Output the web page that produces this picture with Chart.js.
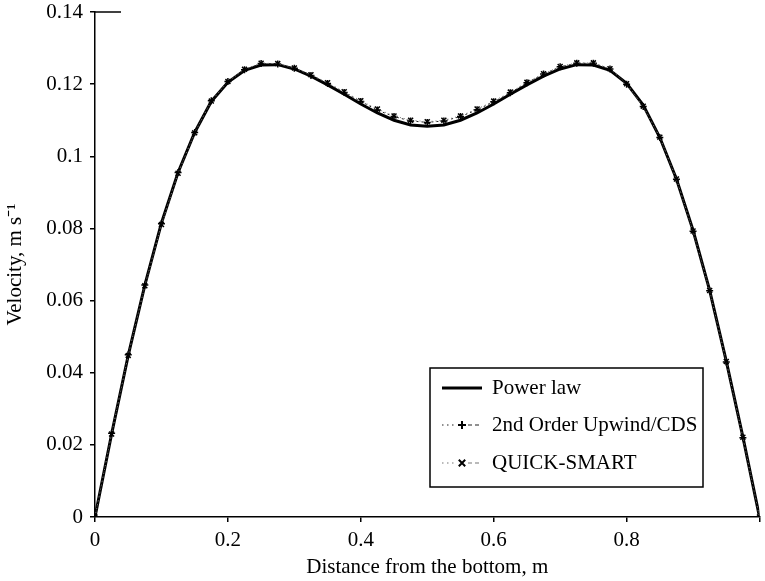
<!DOCTYPE html>
<html>
<head>
<meta charset="utf-8">
<script src="https://cdn.jsdelivr.net/npm/chart.js@4/dist/chart.umd.min.js"></script>
<style>
html,body{margin:0;padding:0;background:#fff;}
#wrap{width:765px;height:581px;position:relative;}
</style>
</head>
<body>
<div id="wrap"><canvas id="c" width="765" height="581"></canvas></div>
<script>
const distance = [0, 0.025, 0.05, 0.075, 0.1, 0.125, 0.15, 0.175, 0.2, 0.225, 0.25, 0.275, 0.3, 0.325, 0.35, 0.375, 0.4, 0.425, 0.45, 0.475, 0.5, 0.525, 0.55, 0.575, 0.6, 0.625, 0.65, 0.675, 0.7, 0.725, 0.75, 0.775, 0.8, 0.825, 0.85, 0.875, 0.9, 0.925, 0.95, 0.975, 1.0];
const powerLaw = [0, 0.023, 0.0448, 0.0643, 0.0815, 0.0955, 0.1066, 0.1152, 0.1205, 0.1238, 0.1253, 0.1254, 0.1242, 0.1222, 0.1198, 0.1172, 0.1145, 0.1120, 0.1100, 0.1087, 0.1083, 0.1087, 0.1100, 0.1120, 0.1145, 0.1172, 0.1198, 0.1222, 0.1242, 0.1254, 0.1253, 0.1238, 0.1202, 0.1142, 0.1052, 0.0937, 0.0795, 0.0628, 0.0432, 0.0222, 0];
const upwindCDS = [0, 0.0232, 0.0450, 0.0643, 0.0813, 0.0955, 0.1066, 0.1154, 0.1207, 0.1240, 0.1257, 0.1256, 0.1244, 0.1224, 0.1202, 0.1177, 0.1152, 0.1128, 0.1110, 0.1098, 0.1094, 0.1098, 0.1110, 0.1129, 0.1151, 0.1176, 0.1204, 0.1228, 0.1248, 0.1258, 0.1258, 0.1242, 0.1200, 0.1138, 0.1052, 0.0936, 0.0792, 0.0627, 0.0430, 0.0220, 0];
const quickSmart = [0, 0.0230, 0.0448, 0.0641, 0.0811, 0.0953, 0.1065, 0.1153, 0.1207, 0.1241, 0.1258, 0.1257, 0.1245, 0.1226, 0.1204, 0.1179, 0.1154, 0.1131, 0.1112, 0.1100, 0.1096, 0.1100, 0.1112, 0.1131, 0.1153, 0.1178, 0.1205, 0.1229, 0.1249, 0.1259, 0.1259, 0.1243, 0.1201, 0.1139, 0.1053, 0.0937, 0.0793, 0.0628, 0.0431, 0.0221, 0];
const seriesNames = ['Power law', '2nd Order Upwind/CDS', 'QUICK-SMART'];
const xTitle = 'Distance from the bottom, m';
const yTitle = 'Velocity, m s\u207B\u00B9';

const FONT = "'Liberation Serif', 'Times New Roman', serif";
const toPts = (ys) => ys.map((y, i) => ({x: distance[i], y: y}));

const legendPlugin = {
  id: 'boxLegend',
  afterDraw(chart) {
    const ctx = chart.ctx;
    const area = chart.chartArea;
    // short top stub at the y-axis top
    ctx.save();
    ctx.strokeStyle = '#000';
    ctx.lineWidth = 1.5;
    ctx.beginPath(); ctx.moveTo(area.left, area.top); ctx.lineTo(area.left + 26, area.top); ctx.stroke();
    ctx.restore();

    const box = {l: 430, t: 368, r: 703, b: 487};
    ctx.save();
    ctx.fillStyle = '#fff';
    ctx.fillRect(box.l, box.t, box.r - box.l, box.b - box.t);
    ctx.strokeStyle = '#000';
    ctx.lineWidth = 1.5;
    ctx.strokeRect(box.l, box.t, box.r - box.l, box.b - box.t);
    const rows = [388, 425, 463];
    chart.data.datasets.forEach((ds, i) => {
      const y = rows[i];
      const x0 = box.l + 12, x1 = box.l + 52;
      const cx = (x0 + x1) / 2;
      ctx.save();
      ctx.strokeStyle = ds.borderColor;
      if (ds.pointRadius > 0) {
        ctx.lineWidth = 1.2;
        ctx.setLineDash([1.5, 3.5]);
        ctx.beginPath(); ctx.moveTo(x0, y); ctx.lineTo(cx - 6, y); ctx.stroke();
        ctx.setLineDash([4, 3]);
        ctx.beginPath(); ctx.moveTo(cx + 6, y); ctx.lineTo(x1, y); ctx.stroke();
      } else {
        ctx.lineWidth = ds.borderWidth;
        ctx.beginPath(); ctx.moveTo(x0, y); ctx.lineTo(x1, y); ctx.stroke();
      }
      ctx.restore();
      if (ds.pointRadius > 0) {
        ctx.save();
        ctx.strokeStyle = '#000';
        ctx.lineWidth = 2;
        ctx.setLineDash([]);
        ctx.beginPath();
        const r = 4;
        if (ds.pointStyle === 'cross') {
          ctx.moveTo(cx - r, y); ctx.lineTo(cx + r, y); ctx.moveTo(cx, y - r); ctx.lineTo(cx, y + r);
        } else {
          ctx.moveTo(cx - r*0.8, y - r*0.8); ctx.lineTo(cx + r*0.8, y + r*0.8);
          ctx.moveTo(cx - r*0.8, y + r*0.8); ctx.lineTo(cx + r*0.8, y - r*0.8);
        }
        ctx.stroke();
        ctx.restore();
      }
      ctx.fillStyle = '#000';
      ctx.font = '21px ' + FONT;
      ctx.textBaseline = 'middle';
      ctx.textAlign = 'left';
      ctx.fillText(ds.label, x1 + 10, y);
    });
    ctx.restore();
  }
};

new Chart(document.getElementById('c'), {
  type: 'line',
  data: {
    datasets: [
      {label: seriesNames[0], data: toPts(powerLaw), borderColor: '#000', borderWidth: 3, pointRadius: 0, tension: 0, order: 3},
      {label: seriesNames[1], data: toPts(upwindCDS), borderColor: '#222', borderWidth: 1, borderDash: [2, 3],
       pointStyle: 'cross', pointRadius: 3.5, pointBorderWidth: 1.5, pointBorderColor: '#000', pointBackgroundColor: '#000', tension: 0, order: 2},
      {label: seriesNames[2], data: toPts(quickSmart), borderColor: '#777', borderWidth: 1, borderDash: [1, 3],
       pointStyle: 'crossRot', pointRadius: 3.5, pointBorderWidth: 1.5, pointBorderColor: '#000', pointBackgroundColor: '#000', tension: 0, order: 1}
    ]
  },
  options: {
    responsive: false,
    animation: false,
    devicePixelRatio: 1,
    layout: {padding: {left: 0, right: 0, top: 12, bottom: 0}},
    plugins: {legend: {display: false}, tooltip: {enabled: false}},
    scales: {
      x: {
        type: 'linear', min: 0, max: 1,
        afterFit(s) { s.height = 64; s.paddingRight = 0; s.paddingLeft = 0; },
        border: {display: true, color: '#000', width: 1.5},
        grid: {display: true, drawOnChartArea: false, drawTicks: true, tickLength: 5, color: '#000', lineWidth: 1.5},
        ticks: {stepSize: 0.2, color: '#000', font: {family: FONT, size: 21}, padding: 6, maxRotation: 0,
          callback: (v) => (v >= 0.999 ? '' : String(+v.toFixed(2)))},
        title: {display: true, text: xTitle, color: '#000', font: {family: FONT, size: 21}, padding: {top: 0, bottom: 1}}
      },
      y: {
        type: 'linear', min: 0, max: 0.14,
        afterFit(s) { s.width = 95; s.paddingTop = 0; s.paddingBottom = 0; },
        border: {display: true, color: '#000', width: 1.5},
        grid: {display: true, drawOnChartArea: false, drawTicks: true, tickLength: 5, color: '#000', lineWidth: 1.5},
        ticks: {stepSize: 0.02, color: '#000', font: {family: FONT, size: 21}, padding: 7,
          callback: (v) => String(+v.toFixed(2))},
        title: {display: true, text: yTitle, color: '#000', font: {family: FONT, size: 21}, padding: {top: 3, bottom: 0}}
      }
    }
  },
  plugins: [legendPlugin]
});
</script>
</body>
</html>
